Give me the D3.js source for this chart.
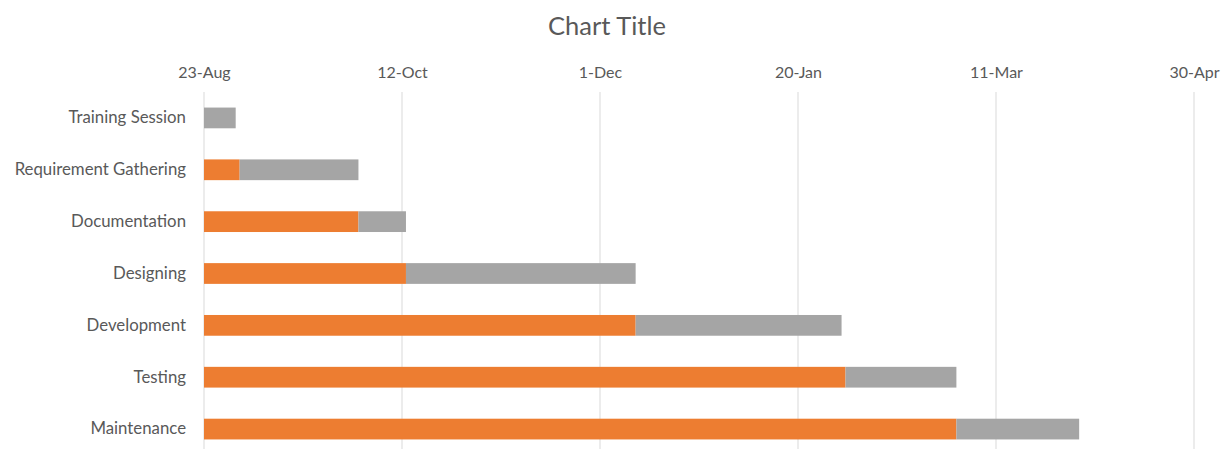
<!DOCTYPE html>
<html>
<head>
<meta charset="utf-8">
<script src="https://cdn.jsdelivr.net/npm/d3@7"></script>
<style>
  html, body { margin: 0; padding: 0; background: #fff; }
  svg { display: block; }
</style>
</head>
<body>
<svg id="chart" width="1227" height="449"></svg>
<script>
const tasks = ["Training Session", "Requirement Gathering", "Documentation", "Designing", "Development", "Testing", "Maintenance"];
const startDates = ["2017-08-23", "2017-09-01", "2017-10-01", "2017-10-13", "2017-12-10", "2018-02-01", "2018-03-01"];
const durations = [8, 30, 12, 58, 52, 28, 31];
const tickDates = ["2017-08-23", "2017-10-12", "2017-12-01", "2018-01-20", "2018-03-11", "2018-04-30"];
const title = "Chart Title";

const parse = d3.timeParse("%Y-%m-%d");
const fmt = d3.timeFormat("%-d-%b");
const dayMs = 86400000;

const svg = d3.select("#chart");
const margin = { left: 204, right: 33, top: 92, bottom: -6 };
const W = 1227, H = 449;

const ticks = tickDates.map(parse);
const x = d3.scaleTime()
  .domain([ticks[0], ticks[ticks.length - 1]])
  .range([margin.left, W - margin.right]);

const y = d3.scaleBand()
  .domain(tasks)
  .range([margin.top, H - margin.bottom])
  .paddingInner(0.6)
  .paddingOuter(0.3);

const font = "Lato, 'Open Sans', sans-serif";

// Title
svg.append("text")
  .attr("x", 607).attr("y", 35)
  .attr("text-anchor", "middle")
  .attr("font-family", font)
  .attr("font-size", 25.5)
  .attr("fill", "#595959")
  .text(title);

// Gridlines
svg.append("g")
  .selectAll("line")
  .data(ticks)
  .join("line")
  .attr("x1", d => x(d)).attr("x2", d => x(d))
  .attr("y1", margin.top).attr("y2", H)
  .attr("stroke", "#d9d9d9")
  .attr("stroke-width", 1);

// Top axis
const axis = d3.axisTop(x).tickValues(ticks).tickFormat(fmt).tickSize(0).tickPadding(0);
const ag = svg.append("g").attr("transform", `translate(0, 78)`).call(axis);
ag.select(".domain").remove();
ag.selectAll("text")
  .attr("font-family", font)
  .attr("font-size", 16)
  .attr("fill", "#595959");

// Category labels
const yAxis = d3.axisLeft(y).tickSize(0).tickPadding(18);
const yg = svg.append("g").attr("transform", `translate(${margin.left}, 0)`).call(yAxis);
yg.select(".domain").remove();
yg.selectAll("text")
  .attr("font-family", font)
  .attr("font-size", 16.8)
  .attr("fill", "#595959");

const rows = tasks.map((t, i) => {
  const s = parse(startDates[i]);
  return { task: t, start: s, end: new Date(s.getTime() + durations[i] * dayMs) };
});

// Orange: offset from axis start to start date
svg.append("g")
  .selectAll("rect")
  .data(rows)
  .join("rect")
  .attr("x", x(ticks[0]))
  .attr("y", d => y(d.task))
  .attr("width", d => Math.max(0, x(d.start) - x(ticks[0])))
  .attr("height", y.bandwidth())
  .attr("fill", "#ED7D31");

// Gray: duration
svg.append("g")
  .selectAll("rect")
  .data(rows)
  .join("rect")
  .attr("x", d => x(d.start))
  .attr("y", d => y(d.task))
  .attr("width", d => x(d.end) - x(d.start))
  .attr("height", y.bandwidth())
  .attr("fill", "#A5A5A5");
</script>
</body>
</html>
